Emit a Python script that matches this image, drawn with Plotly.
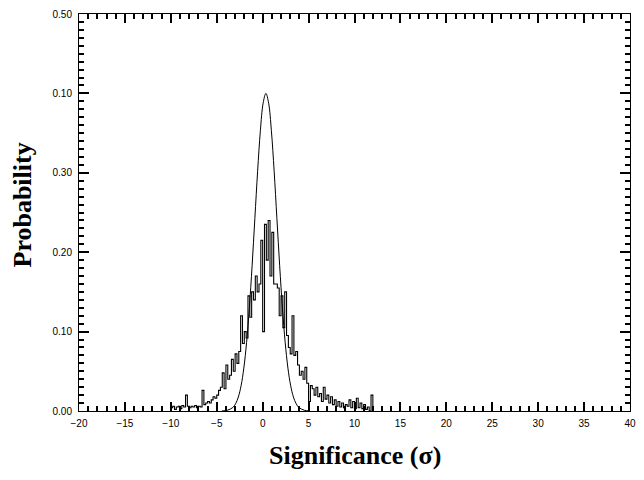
import plotly.graph_objects as go

# Histogram of significance: bin left edges start / width and probabilities
bin_start = -10.0
bin_width = 0.2
hist_prob = [
    0.004, 0.006, 0.002, 0.005, 0.006, 0.003, 0.007, 0.005, 0.020, 0.006,   # -10.0 .. -8.2
    0.004, 0.006, 0.005, 0.007, 0.004, 0.006, 0.005, 0.026, 0.008, 0.010,   # -8.0 .. -6.2
    0.012, 0.010, 0.014, 0.018, 0.016,                                      # -6.0 .. -5.2
    0.020, 0.026, 0.030, 0.048, 0.028,                                      # -5.0 .. -4.2
    0.058, 0.040, 0.045, 0.065, 0.050, 0.072, 0.060, 0.075, 0.120, 0.085,   # -4.0 .. -2.2
    0.100, 0.092, 0.145, 0.118, 0.150, 0.140, 0.170, 0.150, 0.160, 0.215,   # -2.0 .. -0.2
    0.100, 0.235, 0.190, 0.240, 0.170, 0.225, 0.160, 0.160, 0.155, 0.120,   # 0.0 .. 1.8
    0.145, 0.105, 0.150, 0.095, 0.080, 0.072, 0.120, 0.070, 0.075, 0.058,   # 2.0 .. 3.8
    0.045, 0.050, 0.040, 0.055, 0.035, 0.012, 0.032, 0.028, 0.020, 0.030,   # 4.0 .. 5.8
    0.018, 0.022, 0.012, 0.030, 0.015, 0.020, 0.010, 0.018, 0.008, 0.014,   # 6.0 .. 7.8
    0.006, 0.012, 0.005, 0.010, 0.004, 0.008, 0.006, 0.014, 0.004, 0.012,   # 8.0 .. 9.8
    0.003, 0.016, 0.004, 0.010, 0.003, 0.008, 0.002, 0.005, 0.000, 0.020,   # 10.0 .. 11.8
    0.000,
]

# Reference Gaussian curve
gauss_x = [-4.45, -3.85, -3.25, -2.95, -2.65, -2.35, -2.05, -1.75, -1.45, -1.15,
           -0.85, -0.55, -0.25, 0.05, 0.35, 0.65, 0.95, 1.25, 1.55, 1.85,
           2.15, 2.45, 2.75, 3.05, 3.35, 3.65, 3.95, 4.55, 5.15]
gauss_y = [0.0001, 0.0009, 0.0044, 0.0091, 0.0176, 0.0318, 0.0541, 0.0865, 0.1299, 0.183,
           0.2426, 0.302, 0.353, 0.3877, 0.400, 0.3877, 0.353, 0.302, 0.2426, 0.183,
           0.1299, 0.0865, 0.0541, 0.0318, 0.0176, 0.0091, 0.0044, 0.0009, 0.0001]

x_tick_vals = [-20, -15, -10, -5, 0, 5, 10, 15, 20, 25, 30, 35, 40]
y_tick_vals = [0.0, 0.1, 0.2, 0.3, 0.4, 0.5]
y_tick_text = ["0.00", "0.10", "0.20", "0.30", "0.10", "0.50"]

hist_x = [bin_start + i * bin_width for i in range(len(hist_prob))]
x_minor = [v for v in range(-20, 41) if v % 5 != 0]
y_minor = [i / 100 for i in range(0, 51) if i % 10 != 0]

fig = go.Figure()
fig.add_trace(go.Scatter(x=hist_x, y=hist_prob, mode="lines",
                         line=dict(color="black", width=1.1, shape="hv"),
                         showlegend=False))
fig.add_trace(go.Scatter(x=gauss_x, y=gauss_y, mode="lines",
                         line=dict(color="black", width=1, shape="spline"),
                         showlegend=False))

fig.update_xaxes(range=[-20, 40], tickvals=x_tick_vals, ticks="inside", ticklen=9,
                 tickcolor="black", tickwidth=1.5, ticklabelstandoff=3,
                 showline=True, linecolor="black", linewidth=1, mirror="allticks",
                 showgrid=False, zeroline=False,
                 tickfont=dict(family="Liberation Sans", size=10, color="black"),
                 minor=dict(tickvals=x_minor, ticks="inside", ticklen=5,
                            tickcolor="black", tickwidth=1.5))
fig.update_yaxes(range=[0, 0.5], tickvals=y_tick_vals, ticktext=y_tick_text,
                 ticks="inside", ticklen=10, tickcolor="black", tickwidth=1.5,
                 ticklabelstandoff=4,
                 showline=True, linecolor="black", linewidth=1, mirror="allticks",
                 showgrid=False, zeroline=False,
                 tickfont=dict(family="Liberation Sans", size=10, color="black"),
                 minor=dict(tickvals=y_minor, ticks="inside", ticklen=5,
                            tickcolor="black", tickwidth=1.5))

fig.update_layout(
    width=644, height=480,
    margin=dict(l=79, r=8, t=13, b=69),
    paper_bgcolor="white", plot_bgcolor="white",
    annotations=[
        dict(text="<b>Probability</b>", xref="paper", yref="paper", x=0, y=0.5,
             xshift=-57, yshift=7, textangle=-90, showarrow=False,
             xanchor="center", yanchor="middle",
             font=dict(family="Liberation Serif", size=26, color="black")),
        dict(text="<b>Significance (σ)</b>", xref="paper", yref="paper", x=0.5, y=0,
             yshift=-44, showarrow=False, xanchor="center", yanchor="middle",
             font=dict(family="Liberation Serif", size=26, color="black")),
    ],
)

fig.write_html("out.html")
